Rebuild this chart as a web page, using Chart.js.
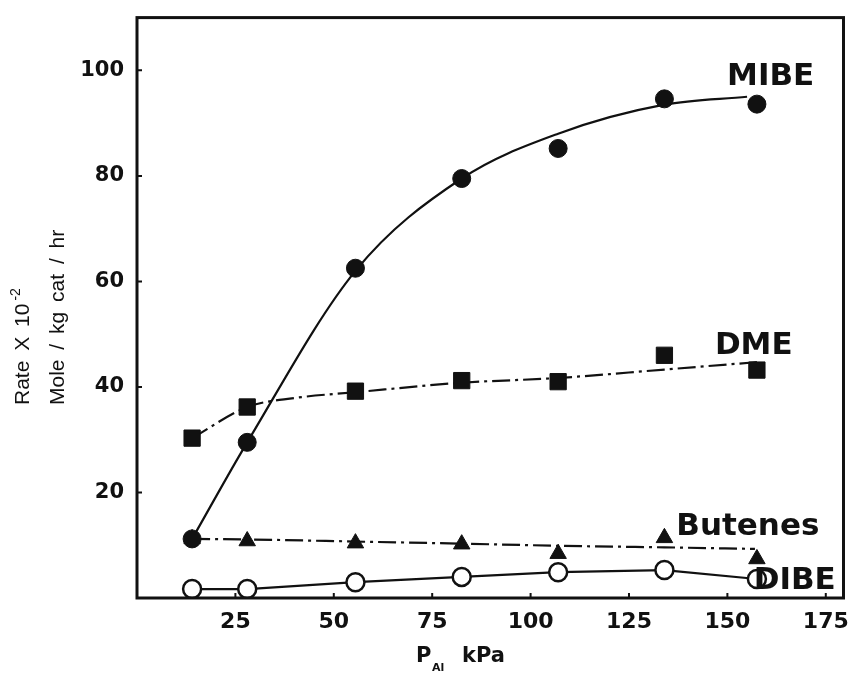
<!DOCTYPE html>
<html>
<head>
<meta charset="utf-8">
<script src="https://cdn.jsdelivr.net/npm/chart.js@4.4.1/dist/chart.umd.min.js"></script>
<style>
  html, body { margin: 0; padding: 0; background: #fff; }
  #wrap { width: 856px; height: 673px; }
</style>
</head>
<body>
<div id="wrap"><canvas id="chart" width="856" height="673"></canvas></div>
<script>
// measured points (P_Al in kPa, rate x 10^-2 mole / kg cat / hr)
const P_KPA   = [14, 28, 55.5, 82.5, 107, 134, 157.5]
const MIBE    = [11.2, 29.5, 62.5, 79.5, 85.2, 94.6, 93.6]
const DME     = [30.3, 36.2, 39.2, 41.2, 41.0, 46.0, 43.2]
const BUTENES = [11.2, 10.8, 10.4, 10.2, 8.4, 11.4, 7.4]
const DIBE    = [1.7, 1.7, 3.0, 4.0, 4.9, 5.3, 3.6]

// hand drawn trend lines
const MIBE_FIT_X    = [14, 28, 55.5, 82.5, 107, 134, 155]
const MIBE_FIT_Y    = [11.2, 29.5, 62, 79.5, 88, 93.5, 95]
const DME_FIT_X     = [14, 28, 40, 55.5, 82.5, 107, 134, 157.5]
const DME_FIT_Y     = [30.3, 36.2, 37.9, 39.0, 40.8, 41.7, 43.3, 44.7]
const BUTENES_FIT_X = [14, 28, 55.5, 82.5, 107, 134, 157]
const BUTENES_FIT_Y = [11.2, 11.1, 10.7, 10.3, 9.9, 9.6, 9.3]

const X_TICKS = [25, 50, 75, 100, 125, 150, 175]
const Y_TICKS = [20, 40, 60, 80, 100]

// series names and where their labels sit (data units)
const LABELS = [
  { text: 'MIBE',    x: 161,   y: 98.7 },
  { text: 'DME',     x: 156.7, y: 47.8 },
  { text: 'Butenes', x: 155.2, y: 13.4 },
  { text: 'DIBE',    x: 167.1, y: 3.2 },
]

const FONT      = '"Liberation Sans", Arial, sans-serif'
const TICK_FONT = '"DejaVu Sans", sans-serif'
const INK       = '#111'

const pts = (xs, ys) => xs.map((x, i) => ({ x, y: ys[i] }))

function markers(data, style, radius, fill) {
  return {
    data,
    showLine: false,
    pointStyle: style,
    pointRadius: radius,
    pointBackgroundColor: fill,
    pointBorderColor: INK,
    pointBorderWidth: fill === '#fff' ? 2.5 : 1,
    order: 1,
  }
}

function trend(data, dash, smooth) {
  return {
    data,
    showLine: true,
    pointRadius: 0,
    borderColor: INK,
    borderWidth: 2.2,
    borderDash: dash,
    cubicInterpolationMode: smooth ? 'monotone' : 'default',
    tension: 0,
    order: 2,
  }
}

const framePlugin = {
  id: 'frame',
  afterDraw(chart) {
    const { ctx, chartArea: a, scales: { x, y } } = chart
    ctx.save()
    ctx.strokeStyle = INK
    ctx.lineWidth = 3
    ctx.strokeRect(a.left, a.top, a.right - a.left, a.bottom - a.top)

    // small inward tick marks
    ctx.lineWidth = 2
    ctx.beginPath()
    for (const v of X_TICKS) {
      const px = x.getPixelForValue(v)
      ctx.moveTo(px, a.bottom)
      ctx.lineTo(px, a.bottom - 5)
    }
    for (const v of Y_TICKS) {
      const py = y.getPixelForValue(v)
      ctx.moveTo(a.left, py)
      ctx.lineTo(a.left + 5, py)
    }
    ctx.stroke()

    // series labels
    ctx.fillStyle = INK
    ctx.font = `bold 31px ${TICK_FONT}`
    ctx.textAlign = 'center'
    ctx.textBaseline = 'middle'
    for (const l of LABELS) {
      ctx.fillText(l.text, x.getPixelForValue(l.x), y.getPixelForValue(l.y))
    }

    // x axis title: P_Al  kPa
    ctx.textAlign = 'left'
    ctx.textBaseline = 'alphabetic'
    ctx.font = `bold 21px ${TICK_FONT}`
    ctx.fillText('P', 416, 662)
    ctx.font = `bold 11px ${TICK_FONT}`
    ctx.fillText('Al', 432, 671)
    ctx.font = `bold 21px ${TICK_FONT}`
    ctx.fillText('kPa', 462, 662)

    // y axis title, two lines reading upward
    ctx.translate(0, 405)
    ctx.rotate(-Math.PI / 2)
    ctx.font = `21px ${FONT}`
    ctx.wordSpacing = '4px'
    ctx.fillText('Rate X 10', 0, 29)
    const w = ctx.measureText('Rate X 10').width
    ctx.font = `14px ${FONT}`
    ctx.fillText('-2', w + 3, 20)
    ctx.font = `21px ${FONT}`
    ctx.fillText('Mole / kg cat / hr', 0, 64)
    ctx.restore()
  },
}

new Chart(document.getElementById('chart'), {
  type: 'scatter',
  data: {
    datasets: [
      markers(pts(P_KPA, MIBE), 'circle', 9, INK),
      markers(pts(P_KPA, DME), 'rect', 11.5, INK),
      markers(pts(P_KPA, BUTENES), 'triangle', 9.5, INK),
      markers(pts(P_KPA, DIBE), 'circle', 9, '#fff'),
      trend(pts(MIBE_FIT_X, MIBE_FIT_Y), [], true),
      trend(pts(DME_FIT_X, DME_FIT_Y), [18, 5, 3, 5], true),
      trend(pts(BUTENES_FIT_X, BUTENES_FIT_Y), [18, 5, 3, 5], true),
      trend(pts(P_KPA, DIBE), [], false),
    ],
  },
  options: {
    responsive: false,
    animation: false,
    events: [],
    layout: { padding: { top: 15, right: 11, left: 0, bottom: 0 } },
    plugins: { legend: { display: false }, tooltip: { enabled: false } },
    scales: {
      x: {
        type: 'linear',
        min: 0,
        max: 179.5,
        afterBuildTicks: axis => { axis.ticks = X_TICKS.map(v => ({ value: v })) },
        afterFit: axis => { axis.height = 75 },
        ticks: { color: INK, padding: 3, font: { family: TICK_FONT, size: 22, weight: 'bold' } },
        grid: { display: false },
        border: { display: false },
      },
      y: {
        type: 'linear',
        min: 0,
        max: 110,
        afterBuildTicks: axis => { axis.ticks = Y_TICKS.map(v => ({ value: v })) },
        afterFit: axis => { axis.width = 137 },
        ticks: { color: INK, padding: 5, font: { family: TICK_FONT, size: 21, weight: 'bold' } },
        grid: { display: false },
        border: { display: false },
      },
    },
  },
  plugins: [framePlugin],
})
</script>
</body>
</html>
